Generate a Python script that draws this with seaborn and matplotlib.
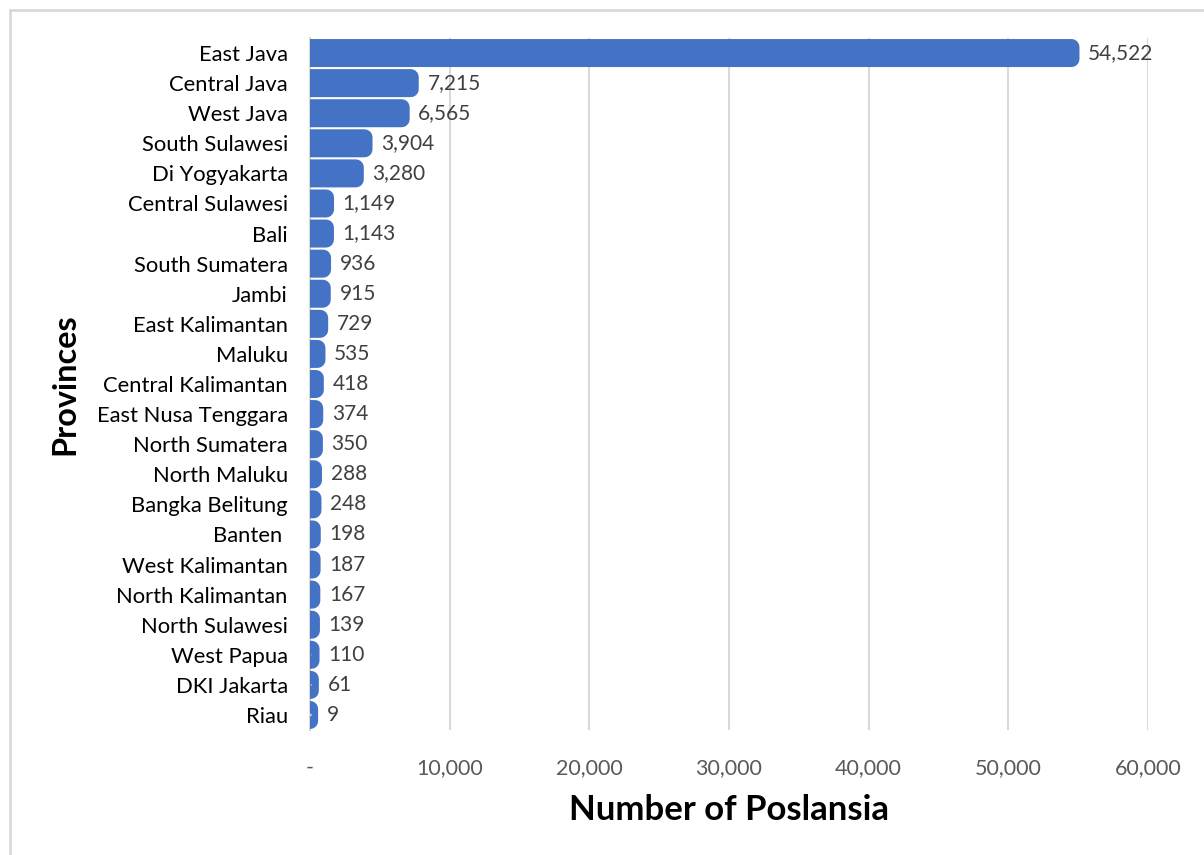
import matplotlib
matplotlib.use("Agg")
import matplotlib.pyplot as plt
import seaborn as sns
import pandas as pd
from matplotlib.patches import Rectangle

# Number of Poslansia per province
provinces = [
    "East Java", "Central Java", "West Java", "South Sulawesi", "Di Yogyakarta",
    "Central Sulawesi", "Bali", "South Sumatera", "Jambi", "East Kalimantan",
    "Maluku", "Central Kalimantan", "East Nusa Tenggara", "North Sumatera",
    "North Maluku", "Bangka Belitung", "Banten ", "West Kalimantan",
    "North Kalimantan", "North Sulawesi", "West Papua", "DKI Jakarta", "Riau",
]
counts = [
    54522, 7215, 6565, 3904, 3280,
    1149, 1143, 936, 915, 729,
    535, 418, 374, 350,
    288, 248, 198, 187,
    167, 139, 110, 61, 9,
]
x_ticks = [0, 10000, 20000, 30000, 40000, 50000, 60000]
x_tick_labels = ["-", "10,000", "20,000", "30,000", "40,000", "50,000", "60,000"]

BAR_COLOR = "#4472C4"
GRID_COLOR = "#D9D9D9"
FONT = "Lato"

sns.set_theme(style="white")
plt.rcParams["font.family"] = [FONT, "DejaVu Sans"]

df = pd.DataFrame({"Province": provinces, "Count": counts})

fig = plt.figure(figsize=(12.04, 8.55), dpi=100)
ax = fig.add_axes([310 / 1204, 1 - 730 / 855, (1148 - 310) / 1204, (730 - 38) / 855])

# Thick round-joined outline gives the bars their rounded ends
sns.barplot(
    data=df, y="Province", x="Count", orient="h", ax=ax,
    color=BAR_COLOR, saturation=1, width=0.4,
    edgecolor=BAR_COLOR, linewidth=11.5,
)
for p in ax.patches:
    p.set_joinstyle("round")
    p.set_snap(False)

ax.set_xlim(0, 60000)
ax.set_xticks(x_ticks)
ax.set_xticklabels(x_tick_labels)
ax.xaxis.grid(True, color=GRID_COLOR, linewidth=1.5)
ax.set_axisbelow(True)
for side in ["top", "right", "bottom"]:
    ax.spines[side].set_visible(False)
ax.spines["left"].set_color(GRID_COLOR)
ax.spines["left"].set_linewidth(1.5)
ax.spines["left"].set_zorder(0.5)

ax.tick_params(axis="x", length=0, pad=20, labelsize=15.5, labelcolor="#595959")
ax.tick_params(axis="y", length=0, pad=16, labelsize=15.8, labelcolor="#000000")

for i, v in enumerate(counts):
    ax.annotate(f"{v:,}", xy=(v, i), xytext=(12, 0), textcoords="offset points",
                ha="left", va="center", fontsize=15, color="#404040",
                annotation_clip=False)

ax.set_xlabel("Number of Poslansia", fontsize=25, fontweight="bold",
              color="#000000", labelpad=12)
ax.set_ylabel("Provinces", fontsize=23.3, fontweight="bold", color="#000000")
ax.yaxis.set_label_coords(-(310 - 79) / (1148 - 310), 0.5)

# Chart-area frame
fig.patches.append(Rectangle((10 / 1204, -0.1), 1.2, 1 - 10 / 855 + 0.1,
                             transform=fig.transFigure, fill=False,
                             edgecolor=GRID_COLOR, linewidth=2))

fig.savefig("out.png", dpi=100, facecolor="white")
